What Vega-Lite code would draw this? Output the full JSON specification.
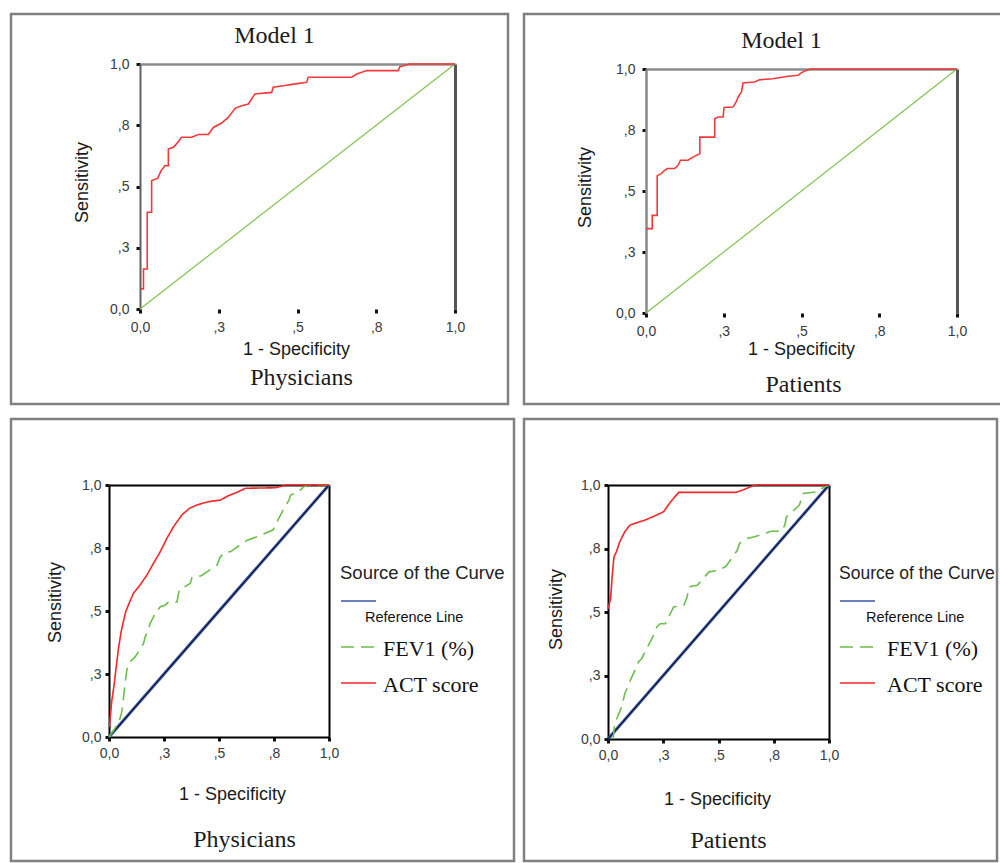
{
  "$schema": "https://vega.github.io/schema/vega-lite/v6.json",
  "background": "white",
  "padding": {"left": 9, "top": 12, "right": 0, "bottom": 0},
  "columns": 2,
  "align": "none",
  "bounds": "flush",
  "spacing": {"row": 15, "column": 10},
  "resolve": {"scale": {"color": "independent", "strokeDash": "independent"}, "legend": {"color": "independent", "strokeDash": "independent"}},
  "datasets": {
    "diag": [{"fpr": 0, "tpr": 0, "series": "Reference Line"}, {"fpr": 1, "tpr": 1, "series": "Reference Line"}],
    "tl": [
      {"fpr": 0.003, "tpr": 0.082}, {"fpr": 0.011, "tpr": 0.082}, {"fpr": 0.011, "tpr": 0.163}, {"fpr": 0.023, "tpr": 0.163},
      {"fpr": 0.023, "tpr": 0.395}, {"fpr": 0.037, "tpr": 0.395}, {"fpr": 0.037, "tpr": 0.524}, {"fpr": 0.056, "tpr": 0.533},
      {"fpr": 0.067, "tpr": 0.565}, {"fpr": 0.079, "tpr": 0.585}, {"fpr": 0.09, "tpr": 0.585}, {"fpr": 0.09, "tpr": 0.653},
      {"fpr": 0.106, "tpr": 0.66}, {"fpr": 0.12, "tpr": 0.68}, {"fpr": 0.132, "tpr": 0.701}, {"fpr": 0.164, "tpr": 0.701},
      {"fpr": 0.185, "tpr": 0.712}, {"fpr": 0.217, "tpr": 0.712}, {"fpr": 0.233, "tpr": 0.741}, {"fpr": 0.259, "tpr": 0.759},
      {"fpr": 0.28, "tpr": 0.782}, {"fpr": 0.302, "tpr": 0.819}, {"fpr": 0.323, "tpr": 0.83}, {"fpr": 0.344, "tpr": 0.837},
      {"fpr": 0.365, "tpr": 0.878}, {"fpr": 0.418, "tpr": 0.884}, {"fpr": 0.423, "tpr": 0.905}, {"fpr": 0.46, "tpr": 0.912},
      {"fpr": 0.487, "tpr": 0.918}, {"fpr": 0.529, "tpr": 0.925}, {"fpr": 0.534, "tpr": 0.946}, {"fpr": 0.672, "tpr": 0.946},
      {"fpr": 0.688, "tpr": 0.959}, {"fpr": 0.72, "tpr": 0.973}, {"fpr": 0.82, "tpr": 0.973}, {"fpr": 0.825, "tpr": 0.989},
      {"fpr": 0.857, "tpr": 1.0}, {"fpr": 1, "tpr": 1}
    ],
    "tr": [
      {"fpr": 0, "tpr": 0.346}, {"fpr": 0.02, "tpr": 0.346}, {"fpr": 0.02, "tpr": 0.4}, {"fpr": 0.036, "tpr": 0.4},
      {"fpr": 0.036, "tpr": 0.563}, {"fpr": 0.049, "tpr": 0.571}, {"fpr": 0.06, "tpr": 0.585}, {"fpr": 0.069, "tpr": 0.592},
      {"fpr": 0.092, "tpr": 0.592}, {"fpr": 0.103, "tpr": 0.605}, {"fpr": 0.111, "tpr": 0.626}, {"fpr": 0.135, "tpr": 0.626},
      {"fpr": 0.151, "tpr": 0.639}, {"fpr": 0.162, "tpr": 0.646}, {"fpr": 0.173, "tpr": 0.653}, {"fpr": 0.173, "tpr": 0.721},
      {"fpr": 0.221, "tpr": 0.721}, {"fpr": 0.221, "tpr": 0.796}, {"fpr": 0.232, "tpr": 0.803}, {"fpr": 0.248, "tpr": 0.803},
      {"fpr": 0.251, "tpr": 0.842}, {"fpr": 0.28, "tpr": 0.844}, {"fpr": 0.29, "tpr": 0.865}, {"fpr": 0.296, "tpr": 0.885},
      {"fpr": 0.307, "tpr": 0.906}, {"fpr": 0.312, "tpr": 0.943}, {"fpr": 0.349, "tpr": 0.947}, {"fpr": 0.365, "tpr": 0.956},
      {"fpr": 0.408, "tpr": 0.96}, {"fpr": 0.457, "tpr": 0.97}, {"fpr": 0.489, "tpr": 0.974}, {"fpr": 0.499, "tpr": 0.984},
      {"fpr": 0.516, "tpr": 0.995}, {"fpr": 0.53, "tpr": 1.0}, {"fpr": 1, "tpr": 1}
    ],
    "bl": [
      {"fpr": 0, "tpr": 0, "series": "FEV1 (%)"}, {"fpr": 0.027, "tpr": 0.033, "series": "FEV1 (%)"}, {"fpr": 0.05, "tpr": 0.073, "series": "FEV1 (%)"},
      {"fpr": 0.058, "tpr": 0.099, "series": "FEV1 (%)"}, {"fpr": 0.065, "tpr": 0.146, "series": "FEV1 (%)"}, {"fpr": 0.073, "tpr": 0.212, "series": "FEV1 (%)"},
      {"fpr": 0.081, "tpr": 0.265, "series": "FEV1 (%)"}, {"fpr": 0.088, "tpr": 0.291, "series": "FEV1 (%)"}, {"fpr": 0.103, "tpr": 0.305, "series": "FEV1 (%)"},
      {"fpr": 0.119, "tpr": 0.318, "series": "FEV1 (%)"}, {"fpr": 0.157, "tpr": 0.371, "series": "FEV1 (%)"}, {"fpr": 0.164, "tpr": 0.397, "series": "FEV1 (%)"},
      {"fpr": 0.179, "tpr": 0.424, "series": "FEV1 (%)"}, {"fpr": 0.187, "tpr": 0.45, "series": "FEV1 (%)"}, {"fpr": 0.21, "tpr": 0.49, "series": "FEV1 (%)"},
      {"fpr": 0.233, "tpr": 0.517, "series": "FEV1 (%)"}, {"fpr": 0.255, "tpr": 0.523, "series": "FEV1 (%)"}, {"fpr": 0.271, "tpr": 0.536, "series": "FEV1 (%)"},
      {"fpr": 0.309, "tpr": 0.536, "series": "FEV1 (%)"}, {"fpr": 0.319, "tpr": 0.583, "series": "FEV1 (%)"}, {"fpr": 0.369, "tpr": 0.609, "series": "FEV1 (%)"},
      {"fpr": 0.377, "tpr": 0.632, "series": "FEV1 (%)"}, {"fpr": 0.419, "tpr": 0.64, "series": "FEV1 (%)"}, {"fpr": 0.468, "tpr": 0.669, "series": "FEV1 (%)"},
      {"fpr": 0.491, "tpr": 0.682, "series": "FEV1 (%)"}, {"fpr": 0.506, "tpr": 0.715, "series": "FEV1 (%)"}, {"fpr": 0.529, "tpr": 0.735, "series": "FEV1 (%)"},
      {"fpr": 0.552, "tpr": 0.735, "series": "FEV1 (%)"}, {"fpr": 0.605, "tpr": 0.768, "series": "FEV1 (%)"}, {"fpr": 0.628, "tpr": 0.781, "series": "FEV1 (%)"},
      {"fpr": 0.673, "tpr": 0.795, "series": "FEV1 (%)"}, {"fpr": 0.745, "tpr": 0.821, "series": "FEV1 (%)"}, {"fpr": 0.757, "tpr": 0.841, "series": "FEV1 (%)"},
      {"fpr": 0.772, "tpr": 0.868, "series": "FEV1 (%)"}, {"fpr": 0.795, "tpr": 0.907, "series": "FEV1 (%)"}, {"fpr": 0.818, "tpr": 0.94, "series": "FEV1 (%)"},
      {"fpr": 0.825, "tpr": 0.96, "series": "FEV1 (%)"}, {"fpr": 0.863, "tpr": 0.974, "series": "FEV1 (%)"}, {"fpr": 0.886, "tpr": 0.993, "series": "FEV1 (%)"},
      {"fpr": 0.901, "tpr": 1.0, "series": "FEV1 (%)"}, {"fpr": 1, "tpr": 1, "series": "FEV1 (%)"},
      {"fpr": 0.002, "tpr": 0.04, "series": "ACT score"}, {"fpr": 0.012, "tpr": 0.139, "series": "ACT score"}, {"fpr": 0.023, "tpr": 0.205, "series": "ACT score"},
      {"fpr": 0.03, "tpr": 0.258, "series": "ACT score"}, {"fpr": 0.043, "tpr": 0.351, "series": "ACT score"}, {"fpr": 0.055, "tpr": 0.417, "series": "ACT score"},
      {"fpr": 0.065, "tpr": 0.457, "series": "ACT score"}, {"fpr": 0.076, "tpr": 0.497, "series": "ACT score"}, {"fpr": 0.091, "tpr": 0.53, "series": "ACT score"},
      {"fpr": 0.111, "tpr": 0.57, "series": "ACT score"}, {"fpr": 0.141, "tpr": 0.603, "series": "ACT score"}, {"fpr": 0.172, "tpr": 0.642, "series": "ACT score"},
      {"fpr": 0.202, "tpr": 0.689, "series": "ACT score"}, {"fpr": 0.233, "tpr": 0.735, "series": "ACT score"}, {"fpr": 0.263, "tpr": 0.788, "series": "ACT score"},
      {"fpr": 0.293, "tpr": 0.834, "series": "ACT score"}, {"fpr": 0.331, "tpr": 0.881, "series": "ACT score"}, {"fpr": 0.365, "tpr": 0.907, "series": "ACT score"},
      {"fpr": 0.4, "tpr": 0.921, "series": "ACT score"}, {"fpr": 0.453, "tpr": 0.934, "series": "ACT score"}, {"fpr": 0.506, "tpr": 0.94, "series": "ACT score"},
      {"fpr": 0.544, "tpr": 0.958, "series": "ACT score"}, {"fpr": 0.59, "tpr": 0.974, "series": "ACT score"}, {"fpr": 0.62, "tpr": 0.987, "series": "ACT score"},
      {"fpr": 0.757, "tpr": 0.989, "series": "ACT score"}, {"fpr": 0.795, "tpr": 0.997, "series": "ACT score"}, {"fpr": 0.8, "tpr": 1.0, "series": "ACT score"},
      {"fpr": 1, "tpr": 1, "series": "ACT score"}
    ],
    "br": [
      {"fpr": 0.023, "tpr": 0, "series": "FEV1 (%)"}, {"fpr": 0.03, "tpr": 0.059, "series": "FEV1 (%)"}, {"fpr": 0.061, "tpr": 0.125, "series": "FEV1 (%)"},
      {"fpr": 0.076, "tpr": 0.178, "series": "FEV1 (%)"}, {"fpr": 0.107, "tpr": 0.243, "series": "FEV1 (%)"}, {"fpr": 0.122, "tpr": 0.27, "series": "FEV1 (%)"},
      {"fpr": 0.137, "tpr": 0.303, "series": "FEV1 (%)"}, {"fpr": 0.152, "tpr": 0.316, "series": "FEV1 (%)"}, {"fpr": 0.191, "tpr": 0.382, "series": "FEV1 (%)"},
      {"fpr": 0.206, "tpr": 0.408, "series": "FEV1 (%)"}, {"fpr": 0.221, "tpr": 0.441, "series": "FEV1 (%)"}, {"fpr": 0.236, "tpr": 0.454, "series": "FEV1 (%)"},
      {"fpr": 0.259, "tpr": 0.454, "series": "FEV1 (%)"}, {"fpr": 0.297, "tpr": 0.52, "series": "FEV1 (%)"}, {"fpr": 0.343, "tpr": 0.526, "series": "FEV1 (%)"},
      {"fpr": 0.358, "tpr": 0.559, "series": "FEV1 (%)"}, {"fpr": 0.366, "tpr": 0.599, "series": "FEV1 (%)"}, {"fpr": 0.404, "tpr": 0.605, "series": "FEV1 (%)"},
      {"fpr": 0.457, "tpr": 0.658, "series": "FEV1 (%)"}, {"fpr": 0.503, "tpr": 0.664, "series": "FEV1 (%)"}, {"fpr": 0.534, "tpr": 0.68, "series": "FEV1 (%)"},
      {"fpr": 0.585, "tpr": 0.743, "series": "FEV1 (%)"}, {"fpr": 0.595, "tpr": 0.77, "series": "FEV1 (%)"}, {"fpr": 0.625, "tpr": 0.789, "series": "FEV1 (%)"},
      {"fpr": 0.663, "tpr": 0.796, "series": "FEV1 (%)"}, {"fpr": 0.739, "tpr": 0.818, "series": "FEV1 (%)"}, {"fpr": 0.785, "tpr": 0.818, "series": "FEV1 (%)"},
      {"fpr": 0.8, "tpr": 0.842, "series": "FEV1 (%)"}, {"fpr": 0.808, "tpr": 0.875, "series": "FEV1 (%)"}, {"fpr": 0.866, "tpr": 0.921, "series": "FEV1 (%)"},
      {"fpr": 0.884, "tpr": 0.967, "series": "FEV1 (%)"}, {"fpr": 0.953, "tpr": 0.974, "series": "FEV1 (%)"}, {"fpr": 0.968, "tpr": 0.987, "series": "FEV1 (%)"},
      {"fpr": 1, "tpr": 1, "series": "FEV1 (%)"},
      {"fpr": 0, "tpr": 0.513, "series": "ACT score"}, {"fpr": 0.012, "tpr": 0.553, "series": "ACT score"}, {"fpr": 0.018, "tpr": 0.632, "series": "ACT score"},
      {"fpr": 0.027, "tpr": 0.717, "series": "ACT score"}, {"fpr": 0.038, "tpr": 0.737, "series": "ACT score"}, {"fpr": 0.053, "tpr": 0.776, "series": "ACT score"},
      {"fpr": 0.076, "tpr": 0.816, "series": "ACT score"}, {"fpr": 0.099, "tpr": 0.842, "series": "ACT score"}, {"fpr": 0.122, "tpr": 0.849, "series": "ACT score"},
      {"fpr": 0.168, "tpr": 0.862, "series": "ACT score"}, {"fpr": 0.221, "tpr": 0.882, "series": "ACT score"}, {"fpr": 0.252, "tpr": 0.895, "series": "ACT score"},
      {"fpr": 0.267, "tpr": 0.914, "series": "ACT score"}, {"fpr": 0.29, "tpr": 0.941, "series": "ACT score"}, {"fpr": 0.32, "tpr": 0.971, "series": "ACT score"},
      {"fpr": 0.579, "tpr": 0.971, "series": "ACT score"}, {"fpr": 0.61, "tpr": 0.98, "series": "ACT score"}, {"fpr": 0.655, "tpr": 0.997, "series": "ACT score"},
      {"fpr": 0.67, "tpr": 1.0, "series": "ACT score"}, {"fpr": 1, "tpr": 1, "series": "ACT score"}
    ]
  },
  "concat": [
    {
      "width": 497, "height": 390,
      "layer": [
        {
          "data": {"name": "diag"},
          "mark": {"type": "line", "color": "#80c24f", "strokeWidth": 1.2},
          "encoding": {
            "x": {"field": "fpr", "type": "quantitative", "scale": {"domain": [0, 1], "range": [129, 444], "nice": false, "zero": false},
              "axis": {"orient": "top", "offset": -50, "labels": false, "ticks": false, "domainColor": "#8c8c8c", "domainWidth": 2.5, "title": "Model 1", "titleFont": "Liberation Serif", "titleFontSize": 24, "titleX": 263, "titleY": -29, "titleAlign": "center", "titleBaseline": "middle"}},
            "y": {"field": "tpr", "type": "quantitative", "scale": {"domain": [0, 1], "range": [295, 50], "nice": false, "zero": false},
              "axis": {"orient": "right", "offset": -53, "labels": false, "ticks": false, "domainColor": "#555555", "domainWidth": 3, "title": "Physicians", "titleAngle": 0, "titleFont": "Liberation Serif", "titleFontSize": 24, "titleX": -154, "titleY": 363, "titleAlign": "center", "titleBaseline": "middle"}},
            "order": {"value": null}
          }
        },
        {
          "data": {"name": "tl"},
          "mark": {"type": "line", "color": "#f03a3a", "strokeWidth": 1.6},
          "encoding": {
            "x": {"field": "fpr", "type": "quantitative", "scale": {"domain": [0, 1], "range": [129, 444], "nice": false, "zero": false},
              "axis": {"orient": "bottom", "offset": -95, "values": [0, 0.25, 0.5, 0.75, 1], "labelExpr": "datum.value == 0 ? '0,0' : datum.value == 1 ? '1,0' : datum.value == 0.25 ? ',3' : datum.value == 0.5 ? ',5' : ',8'", "domain": false, "labelPadding": 7, "title": "1 - Specificity", "titleX": 285, "titleY": 40, "titleAlign": "center", "titleBaseline": "middle"}},
            "y": {"field": "tpr", "type": "quantitative", "scale": {"domain": [0, 1], "range": [295, 50], "nice": false, "zero": false},
              "axis": {"orient": "left", "offset": -129, "values": [0, 0.25, 0.5, 0.75, 1], "labelExpr": "datum.value == 0 ? '0,0' : datum.value == 1 ? '1,0' : datum.value == 0.25 ? ',3' : datum.value == 0.5 ? ',5' : ',8'", "domainColor": "#606060", "domainWidth": 2, "labelPadding": 7, "title": "Sensitivity", "titleAngle": 270, "titleX": -58, "titleY": 168, "titleAlign": "center", "titleBaseline": "middle"}},
            "order": {"value": null}
          }
        }
      ],
      "resolve": {"axis": {"x": "independent", "y": "independent"}}
    },
    {
      "width": 480, "height": 390,
      "layer": [
        {
          "data": {"name": "diag"},
          "mark": {"type": "line", "color": "#80c24f", "strokeWidth": 1.2},
          "encoding": {
            "x": {"field": "fpr", "type": "quantitative", "scale": {"domain": [0, 1], "range": [122, 433], "nice": false, "zero": false},
              "axis": {"orient": "top", "offset": -55, "labels": false, "ticks": false, "domainColor": "#8c8c8c", "domainWidth": 2.5, "title": "Model 1", "titleFont": "Liberation Serif", "titleFontSize": 24, "titleX": 257, "titleY": -29, "titleAlign": "center", "titleBaseline": "middle"}},
            "y": {"field": "tpr", "type": "quantitative", "scale": {"domain": [0, 1], "range": [299, 55], "nice": false, "zero": false},
              "axis": {"orient": "right", "offset": -47, "labels": false, "ticks": false, "domainColor": "#555555", "domainWidth": 3, "title": "Patients", "titleAngle": 0, "titleFont": "Liberation Serif", "titleFontSize": 24, "titleX": -154, "titleY": 370, "titleAlign": "center", "titleBaseline": "middle"}},
            "order": {"value": null}
          }
        },
        {
          "data": {"name": "tr"},
          "mark": {"type": "line", "color": "#f03a3a", "strokeWidth": 1.6},
          "encoding": {
            "x": {"field": "fpr", "type": "quantitative", "scale": {"domain": [0, 1], "range": [122, 433], "nice": false, "zero": false},
              "axis": {"orient": "bottom", "offset": -91, "values": [0, 0.25, 0.5, 0.75, 1], "labelExpr": "datum.value == 0 ? '0,0' : datum.value == 1 ? '1,0' : datum.value == 0.25 ? ',3' : datum.value == 0.5 ? ',5' : ',8'", "domain": false, "labelPadding": 7, "title": "1 - Specificity", "titleX": 277, "titleY": 36, "titleAlign": "center", "titleBaseline": "middle"}},
            "y": {"field": "tpr", "type": "quantitative", "scale": {"domain": [0, 1], "range": [299, 55], "nice": false, "zero": false},
              "axis": {"orient": "left", "offset": -122, "values": [0, 0.25, 0.5, 0.75, 1], "labelExpr": "datum.value == 0 ? '0,0' : datum.value == 1 ? '1,0' : datum.value == 0.25 ? ',3' : datum.value == 0.5 ? ',5' : ',8'", "domainColor": "#8a8a8a", "domainWidth": 2.5, "labelPadding": 7, "title": "Sensitivity", "titleAngle": 270, "titleX": -61, "titleY": 173, "titleAlign": "center", "titleBaseline": "middle"}},
            "order": {"value": null}
          }
        }
      ],
      "resolve": {"axis": {"x": "independent", "y": "independent"}}
    },
    {
      "width": 503, "height": 442,
      "layer": [
        {
          "data": {"name": "diag"},
          "mark": {"type": "line", "strokeWidth": 3},
          "encoding": {
            "x": {"field": "fpr", "type": "quantitative", "scale": {"domain": [0, 1], "range": [98, 318], "nice": false, "zero": false},
              "axis": {"orient": "top", "offset": -66, "labels": false, "ticks": false, "domainColor": "#000000", "domainWidth": 2, "title": null}},
            "y": {"field": "tpr", "type": "quantitative", "scale": {"domain": [0, 1], "range": [318, 66], "nice": false, "zero": false},
              "axis": {"orient": "right", "offset": -185, "labels": false, "ticks": false, "domainColor": "#000000", "domainWidth": 2, "title": "Physicians", "titleAngle": 0, "titleFont": "Liberation Serif", "titleFontSize": 24, "titleX": -85, "titleY": 420, "titleAlign": "center", "titleBaseline": "middle"}},
            "color": {"field": "series", "type": "nominal", "scale": {"domain": ["Reference Line", "FEV1 (%)", "ACT score"], "range": ["#3a56a8", "#6cbf4a", "#f02828"]}},
            "order": {"value": null}
          }
        },
        {
          "data": {"name": "diag"},
          "mark": {"type": "line", "color": "#000000", "strokeWidth": 1},
          "encoding": {
            "x": {"field": "fpr", "type": "quantitative", "axis": null},
            "y": {"field": "tpr", "type": "quantitative", "axis": null},
            "order": {"value": null}
          }
        },
        {
          "data": {"name": "bl"},
          "mark": {"type": "line", "strokeWidth": 1.6},
          "encoding": {
            "x": {"field": "fpr", "type": "quantitative", "scale": {"domain": [0, 1], "range": [98, 318], "nice": false, "zero": false},
              "axis": {"orient": "bottom", "offset": -124, "values": [0, 0.25, 0.5, 0.75, 1], "labelExpr": "datum.value == 0 ? '0,0' : datum.value == 1 ? '1,0' : datum.value == 0.25 ? ',3' : datum.value == 0.5 ? ',5' : ',8'", "domainColor": "#000000", "domainWidth": 2, "labelPadding": 5, "title": "1 - Specificity", "titleX": 221, "titleY": 57, "titleAlign": "center", "titleBaseline": "middle"}},
            "y": {"field": "tpr", "type": "quantitative", "scale": {"domain": [0, 1], "range": [318, 66], "nice": false, "zero": false},
              "axis": {"orient": "left", "offset": -98, "values": [0, 0.25, 0.5, 0.75, 1], "labelExpr": "datum.value == 0 ? '0,0' : datum.value == 1 ? '1,0' : datum.value == 0.25 ? ',3' : datum.value == 0.5 ? ',5' : ',8'", "domainColor": "#000000", "domainWidth": 2, "labelPadding": 4, "title": "Sensitivity", "titleAngle": 270, "titleX": -54, "titleY": 183, "titleAlign": "center", "titleBaseline": "middle"}},
            "color": {"field": "series", "type": "nominal", "scale": {"domain": ["Reference Line", "FEV1 (%)", "ACT score"], "range": ["#3a56a8", "#6cbf4a", "#f02828"]},
              "legend": {"title": "Source of the Curve", "orient": "none", "legendX": 329, "legendY": 145, "padding": 0, "titleFont": "Liberation Sans", "titleFontSize": 18.5, "titleFontWeight": "normal", "titleColor": "#222222", "titlePadding": 0, "symbolType": "stroke", "symbolSize": 1225, "symbolStrokeWidth": 1.5, "rowPadding": 4, "labelFont": "Liberation Serif", "labelFontSize": 22, "labelOffset": 6, "labelColor": "#111111", "labelLimit": 300,
                "encoding": {"labels": {"font": {"value": {"expr": "datum.label == 'Reference Line' ? 'Liberation Sans' : 'Liberation Serif'"}}, "fontSize": {"value": {"expr": "datum.label == 'Reference Line' ? 14.5 : 22"}}, "dx": {"value": {"expr": "datum.label == 'Reference Line' ? -18 : 0"}}, "dy": {"value": {"expr": "datum.label == 'Reference Line' ? 17 : 2"}}}}}},
            "strokeDash": {"field": "series", "type": "nominal", "scale": {"domain": ["Reference Line", "FEV1 (%)", "ACT score"], "range": [[1, 0], [13, 7], [1, 0]]},
              "legend": {"title": "Source of the Curve", "orient": "none", "legendX": 329, "legendY": 145, "padding": 0, "titleFont": "Liberation Sans", "titleFontSize": 18.5, "titleFontWeight": "normal", "titleColor": "#222222", "titlePadding": 0, "symbolType": "stroke", "symbolSize": 1225, "symbolStrokeWidth": 1.5, "rowPadding": 4, "labelFont": "Liberation Serif", "labelFontSize": 22, "labelOffset": 6, "labelColor": "#111111", "labelLimit": 300}},
            "order": {"value": null}
          }
        }
      ],
      "resolve": {"axis": {"x": "independent", "y": "independent"}}
    },
    {
      "width": 473, "height": 442,
      "layer": [
        {
          "data": {"name": "diag"},
          "mark": {"type": "line", "strokeWidth": 3},
          "encoding": {
            "x": {"field": "fpr", "type": "quantitative", "scale": {"domain": [0, 1], "range": [84, 305], "nice": false, "zero": false},
              "axis": {"orient": "top", "offset": -66, "labels": false, "ticks": false, "domainColor": "#000000", "domainWidth": 2, "title": null}},
            "y": {"field": "tpr", "type": "quantitative", "scale": {"domain": [0, 1], "range": [320, 66], "nice": false, "zero": false},
              "axis": {"orient": "right", "offset": -168, "labels": false, "ticks": false, "domainColor": "#000000", "domainWidth": 2, "title": "Patients", "titleAngle": 0, "titleFont": "Liberation Serif", "titleFontSize": 24, "titleX": -101, "titleY": 421, "titleAlign": "center", "titleBaseline": "middle"}},
            "color": {"field": "series", "type": "nominal", "scale": {"domain": ["Reference Line", "FEV1 (%)", "ACT score"], "range": ["#3a56a8", "#6cbf4a", "#f02828"]}},
            "order": {"value": null}
          }
        },
        {
          "data": {"name": "diag"},
          "mark": {"type": "line", "color": "#000000", "strokeWidth": 1},
          "encoding": {
            "x": {"field": "fpr", "type": "quantitative", "axis": null},
            "y": {"field": "tpr", "type": "quantitative", "axis": null},
            "order": {"value": null}
          }
        },
        {
          "data": {"name": "br"},
          "mark": {"type": "line", "strokeWidth": 1.6},
          "encoding": {
            "x": {"field": "fpr", "type": "quantitative", "scale": {"domain": [0, 1], "range": [84, 305], "nice": false, "zero": false},
              "axis": {"orient": "bottom", "offset": -122, "values": [0, 0.25, 0.5, 0.75, 1], "labelExpr": "datum.value == 0 ? '0,0' : datum.value == 1 ? '1,0' : datum.value == 0.25 ? ',3' : datum.value == 0.5 ? ',5' : ',8'", "domainColor": "#000000", "domainWidth": 2, "labelPadding": 5, "title": "1 - Specificity", "titleX": 193, "titleY": 60, "titleAlign": "center", "titleBaseline": "middle"}},
            "y": {"field": "tpr", "type": "quantitative", "scale": {"domain": [0, 1], "range": [320, 66], "nice": false, "zero": false},
              "axis": {"orient": "left", "offset": -84, "values": [0, 0.25, 0.5, 0.75, 1], "labelExpr": "datum.value == 0 ? '0,0' : datum.value == 1 ? '1,0' : datum.value == 0.25 ? ',3' : datum.value == 0.5 ? ',5' : ',8'", "domainColor": "#000000", "domainWidth": 2, "labelPadding": 4, "title": "Sensitivity", "titleAngle": 270, "titleX": -52, "titleY": 190, "titleAlign": "center", "titleBaseline": "middle"}},
            "color": {"field": "series", "type": "nominal", "scale": {"domain": ["Reference Line", "FEV1 (%)", "ACT score"], "range": ["#3a56a8", "#6cbf4a", "#f02828"]},
              "legend": {"title": "Source of the Curve", "orient": "none", "legendX": 315, "legendY": 146, "padding": 0, "titleFont": "Liberation Sans", "titleFontSize": 17.5, "titleFontWeight": "normal", "titleColor": "#222222", "titlePadding": 0, "symbolType": "stroke", "symbolSize": 1225, "symbolStrokeWidth": 1.5, "rowPadding": 4, "labelFont": "Liberation Serif", "labelFontSize": 22, "labelOffset": 11, "labelColor": "#111111", "labelLimit": 300,
                "encoding": {"labels": {"font": {"value": {"expr": "datum.label == 'Reference Line' ? 'Liberation Sans' : 'Liberation Serif'"}}, "fontSize": {"value": {"expr": "datum.label == 'Reference Line' ? 14.5 : 22"}}, "dx": {"value": {"expr": "datum.label == 'Reference Line' ? -21 : 0"}}, "dy": {"value": {"expr": "datum.label == 'Reference Line' ? 17 : 2"}}}}}},
            "strokeDash": {"field": "series", "type": "nominal", "scale": {"domain": ["Reference Line", "FEV1 (%)", "ACT score"], "range": [[1, 0], [13, 7], [1, 0]]},
              "legend": {"title": "Source of the Curve", "orient": "none", "legendX": 315, "legendY": 146, "padding": 0, "titleFont": "Liberation Sans", "titleFontSize": 17.5, "titleFontWeight": "normal", "titleColor": "#222222", "titlePadding": 0, "symbolType": "stroke", "symbolSize": 1225, "symbolStrokeWidth": 1.5, "rowPadding": 4, "labelFont": "Liberation Serif", "labelFontSize": 22, "labelOffset": 11, "labelColor": "#111111", "labelLimit": 300}},
            "order": {"value": null}
          }
        }
      ],
      "resolve": {"axis": {"x": "independent", "y": "independent"}}
    }
  ],
  "config": {
    "view": {"stroke": "#808080", "strokeWidth": 2.5},
    "axis": {"grid": false, "labelFont": "Liberation Sans", "labelFontSize": 14, "labelColor": "#3a3a3a", "labelFlush": false, "labelOverlap": false, "labelBound": false, "tickSize": 4, "tickWidth": 3, "tickColor": "#111111", "titleFont": "Liberation Sans", "titleFontSize": 18, "titleFontWeight": "normal", "titleColor": "#1a1a1a", "titlePadding": 0}
  }
}
